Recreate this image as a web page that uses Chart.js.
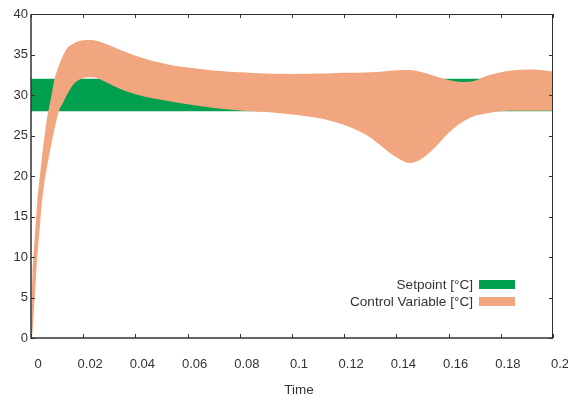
<!DOCTYPE html>
<html>
<head>
<meta charset="utf-8">
<script src="https://cdn.jsdelivr.net/npm/chart.js@4.4.1/dist/chart.umd.min.js"></script>
<style>
  html, body { margin: 0; padding: 0; background: #fff; }
  #c { display: block; }
</style>
</head>
<body>
<canvas id="c" width="568" height="401"></canvas>
<script>
// ---- data ----
const time = [0, 0.0005, 0.001, 0.0015, 0.002, 0.0025, 0.003, 0.0035, 0.004, 0.005, 0.006, 0.007,
  0.008, 0.009, 0.010, 0.011, 0.012, 0.013, 0.014, 0.016, 0.018, 0.020, 0.022, 0.024, 0.026, 0.028,
  0.030, 0.035, 0.040, 0.045, 0.050, 0.055, 0.060, 0.065, 0.070, 0.075, 0.080, 0.085, 0.090, 0.095,
  0.100, 0.105, 0.110, 0.115, 0.120, 0.125, 0.130, 0.135, 0.140, 0.145, 0.150, 0.155, 0.160, 0.165,
  0.170, 0.175, 0.180, 0.185, 0.190, 0.195, 0.200];
const cvUpper = [0, 7.5, 10.5, 12.7, 15, 17.3, 18.8, 20.3, 21.7, 24.5, 26.8, 28.6,
  30.2, 32.0, 33.0, 33.9, 34.7, 35.3, 35.85, 36.3, 36.6, 36.75, 36.8, 36.75, 36.6, 36.4,
  36.15, 35.45, 34.85, 34.35, 33.95, 33.6, 33.38, 33.2, 33.04, 32.9, 32.8, 32.72, 32.66, 32.62,
  32.6, 32.62, 32.65, 32.7, 32.75, 32.75, 32.8, 32.9, 33.05, 33.1, 32.8, 32.3, 31.85, 31.6,
  31.75, 32.4, 32.8, 33.05, 33.15, 33.1, 32.9];
const cvLower = [0, 0.5, 2.7, 5.5, 8.0, 10.4, 12.3, 14.2, 16.2, 18.9, 20.9, 22.6,
  24.3, 25.8, 27.2, 28.3, 28.9, 29.55, 30.15, 31.2, 31.8, 32.1, 32.2, 32.2, 32.0, 31.7,
  31.4, 30.65, 30.1, 29.7, 29.4, 29.1, 28.85, 28.6, 28.4, 28.25, 28.1, 28.0, 27.9, 27.75,
  27.6, 27.4, 27.15, 26.8, 26.3, 25.65, 24.75, 23.5, 22.3, 21.6, 22.2, 23.6, 25.3, 26.6,
  27.4, 27.75, 28.0, 28.05, 28.05, 28.05, 28.05];
const spTime = [0, 0.2];
const spUpper = [32, 32];
const spLower = [28, 28];
const seriesLabels = ['Setpoint [°C]', 'Control Variable [°C]'];
const xAxisTitle = 'Time';
const xTickValues = [0, 0.02, 0.04, 0.06, 0.08, 0.1, 0.12, 0.14, 0.16, 0.18, 0.2];
const xTickLabels = ['0', '0.02', '0.04', '0.06', '0.08', '0.1', '0.12', '0.14', '0.16', '0.18', '0.2'];
const yTickValues = [0, 5, 10, 15, 20, 25, 30, 35, 40];
const yTickLabels = ['0', '5', '10', '15', '20', '25', '30', '35', '40'];

// ---- styles ----
const GREEN = '#00A04F';
const ORANGE = '#F2A67F';
const TEXT = '#333333';
const FONT = "'Liberation Sans', Arial, sans-serif";

const pts = (xs, ys) => xs.map((x, i) => ({ x: x, y: ys[i] }));

const frameTicks = {
  id: 'frameTicks',
  afterDatasetsDraw(chart) {
    const ctx = chart.ctx, ca = chart.chartArea;
    const xs = chart.scales.x, ys = chart.scales.y;
    ctx.save();
    ctx.strokeStyle = '#333';
    ctx.lineWidth = 1;
    ctx.beginPath();
    ctx.moveTo(ca.left, ca.top + 0.5); ctx.lineTo(ca.right, ca.top + 0.5);
    ctx.moveTo(ca.right - 0.5, ca.top); ctx.lineTo(ca.right - 0.5, ca.bottom);
    ctx.stroke();
    ctx.lineWidth = 1.5;
    ctx.beginPath();
    ctx.moveTo(ca.left, ca.top); ctx.lineTo(ca.left, ca.bottom);
    ctx.lineTo(ca.right, ca.bottom);
    ctx.stroke();
    ctx.lineWidth = 1;
    const L = 4;
    ctx.beginPath();
    xs.ticks.forEach(t => {
      const px = Math.round(xs.getPixelForValue(t.value)) + 0.5;
      ctx.moveTo(px, ca.bottom); ctx.lineTo(px, ca.bottom - L);
      ctx.moveTo(px, ca.top); ctx.lineTo(px, ca.top + L);
    });
    ys.ticks.forEach(t => {
      const py = Math.round(ys.getPixelForValue(t.value)) + 0.5;
      ctx.moveTo(ca.left, py); ctx.lineTo(ca.left + L, py);
      ctx.moveTo(ca.right, py); ctx.lineTo(ca.right - L, py);
    });
    ctx.stroke();
    ctx.restore();
  },
  afterDraw(chart) {
    const ctx = chart.ctx, ca = chart.chartArea;
    const colors = [GREEN, ORANGE];
    const boxW = 36, boxH = 9;
    const boxRight = ca.right - 38;
    ctx.save();
    ctx.font = '13.6px ' + FONT;
    ctx.textAlign = 'right';
    ctx.textBaseline = 'middle';
    seriesLabels.forEach((lab, i) => {
      const top = ca.bottom - 58 + i * 17;
      ctx.fillStyle = colors[i];
      ctx.fillRect(boxRight - boxW, top, boxW, boxH);
      ctx.fillStyle = TEXT;
      ctx.fillText(lab, boxRight - boxW - 6, top + boxH / 2 + 0.5);
    });
    // x axis title
    ctx.textAlign = 'center';
    ctx.font = '13.5px ' + FONT;
    ctx.fillText(xAxisTitle, (ca.left + ca.right) / 2 + 7, ca.bottom + 52);
    ctx.restore();
  }
};

new Chart(document.getElementById('c'), {
  type: 'line',
  data: {
    datasets: [
      { label: seriesLabels[1], data: pts(time, cvUpper), fill: '+1', backgroundColor: ORANGE,
        borderWidth: 0, pointRadius: 0, cubicInterpolationMode: 'monotone' },
      { label: seriesLabels[1] + ' low', data: pts(time, cvLower), fill: false,
        borderWidth: 0, pointRadius: 0, cubicInterpolationMode: 'monotone' },
      { label: seriesLabels[0], data: pts(spTime, spUpper), fill: '+1', backgroundColor: GREEN,
        borderWidth: 0, pointRadius: 0 },
      { label: seriesLabels[0] + ' low', data: pts(spTime, spLower), fill: false,
        borderWidth: 0, pointRadius: 0 }
    ]
  },
  options: {
    responsive: false,
    devicePixelRatio: 1,
    animation: false,
    layout: { padding: { top: 14, right: 15, left: 0, bottom: 0 }, autoPadding: false },
    plugins: { legend: { display: false }, tooltip: { enabled: false } },
    scales: {
      x: {
        type: 'linear', min: 0, max: 0.2,
        grid: { display: false, drawTicks: false }, border: { display: false },
        afterBuildTicks: s => { s.ticks = xTickValues.map(v => ({ value: v })); },
        afterFit: s => { s.height = 63; s.paddingLeft = 0; s.paddingRight = 0; },
        ticks: {
          autoSkip: false, maxRotation: 0, padding: 19, labelOffset: 7,
          color: TEXT, font: { family: FONT, size: 13 },
          callback: (v, i) => xTickLabels[i]
        },
        title: { display: false }
      },
      y: {
        type: 'linear', min: 0, max: 40,
        grid: { display: false, drawTicks: false }, border: { display: false },
        afterBuildTicks: s => { s.ticks = yTickValues.map(v => ({ value: v })); },
        afterFit: s => { s.width = 31; s.paddingTop = 0; s.paddingBottom = 0; },
        ticks: {
          autoSkip: false, padding: 3,
          color: TEXT, font: { family: FONT, size: 13 },
          callback: (v, i) => yTickLabels[i]
        }
      }
    }
  },
  plugins: [frameTicks]
});
</script>
</body>
</html>
